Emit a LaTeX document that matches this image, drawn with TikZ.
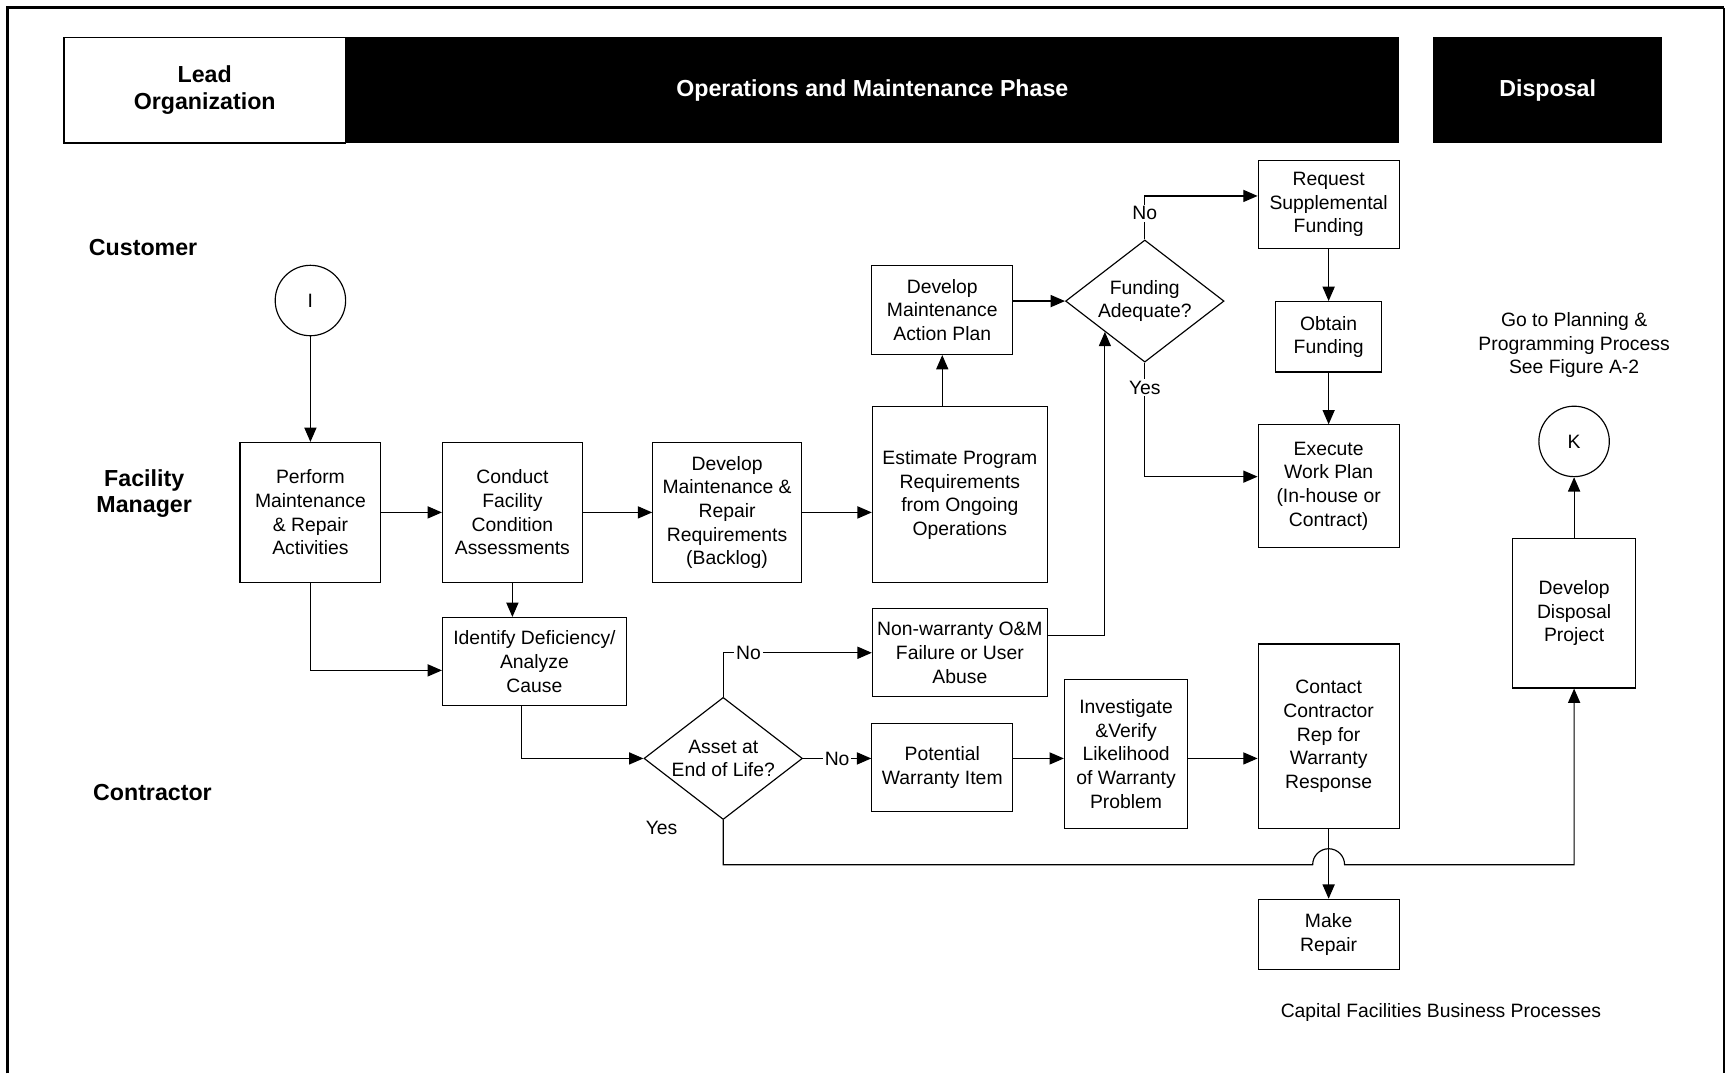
\documentclass[tikz,border=0pt]{standalone}
\usepackage{fontspec}
\setmainfont{Liberation Sans}
\usetikzlibrary{shapes.geometric,arrows.meta,calc}

\begin{document}
\begin{tikzpicture}[x=0.02cm,y=-0.02cm,
  phase/.style={minimum height=1.92cm,inner sep=0pt,align=center,font=\bfseries\fontsize{12}{14}\selectfont},
  lane/.style={align=center,font=\bfseries\fontsize{12}{13.6}\selectfont},
  box/.style 2 args={draw,line width=0.6pt,align=center,inner sep=0pt,
    minimum width=#1*0.02cm,minimum height=#2*0.02cm,font=\fontsize{10}{12.2}\selectfont},
  decide/.style={draw,diamond,line width=0.6pt,align=center,inner sep=0pt,aspect=1.3,
    minimum width=2.88cm,minimum height=2.22cm,font=\fontsize{10}{12.2}\selectfont},
  conn/.style={draw,circle,line width=0.6pt,minimum size=1.28cm,inner sep=0pt,font=\fontsize{10}{12}\selectfont},
  arr/.style={line width=0.6pt,-{Triangle[length=0.26cm,width=0.22cm]}},
  lbl/.style={fill=white,inner sep=1pt,font=\fontsize{10}{12}\selectfont},
  txt/.style={align=center,font=\fontsize{10}{12.2}\selectfont}]

\useasboundingbox (0,0) rectangle (1568,975);

% frame
\draw[line width=1.8pt] (7,975) -- (7,7) -- (1566,7);
\draw[line width=0.8pt] (1566,7) -- (1566,975);

% phases
\node[phase,draw,line width=0.8pt,minimum width=5.12cm] (lead) at (186,82) {Lead\\Organization};
\node[phase,fill=black,text=white,minimum width=19.14cm] (ops) at (792.5,82) {Operations and Maintenance Phase};
\node[phase,fill=black,text=white,minimum width=4.16cm] (disp) at (1406,82) {Disposal};

% lanes
\node[lane] (cust) at (130,225) {Customer};
\node[lane] (fm) at (131,448.5) {Facility\\Manager};
\node[lane] (contr) at (138.5,720) {Contractor};

% steps
\node[conn] (initI) at (282,273) {I};
\node[box={128}{127}] (perform) at (282,465.5) {Perform\\Maintenance\\\& Repair\\Activities};
\node[box={127}{127}] (conduct) at (465.5,465.5) {Conduct\\Facility\\Condition\\Assessments};
\node[box={135}{127}] (backlog) at (660.5,465.5) {Develop\\Maintenance \&\\Repair\\Requirements\\(Backlog)};
\node[box={159}{160}] (estimate) at (872,449.5) {Estimate Program\\Requirements\\from Ongoing\\Operations};
\node[box={128}{81}] (plan) at (856,281.5) {Develop\\Maintenance\\Action Plan};
\node[decide] (fund) at (1040,273.5) {Funding\\Adequate?};
\node[box={128}{80}] (req) at (1207,186) {Request\\Supplemental\\Funding};
\node[box={96}{64}] (obtain) at (1207,306) {Obtain\\Funding};
\node[box={128}{111}] (exec) at (1207,441.5) {Execute\\Work Plan\\(In-house or\\Contract)};
\node[box={167}{80}] (ident) at (485.5,601) {Identify Deficiency/\\Analyze\\Cause};
\node[box={159}{80}] (nonwar) at (872,593) {Non-warranty O\&M\\Failure or User\\Abuse};
\node[decide] (asset) at (657,689) {Asset at\\End of Life?};
\node[box={128}{80}] (pot) at (856,697) {Potential\\Warranty Item};
\node[box={112}{136}] (inv) at (1023,685) {Investigate\\\&Verify\\Likelihood\\of Warranty\\Problem};
\node[box={128}{168}] (contact) at (1207,669) {Contact\\Contractor\\Rep for\\Warranty\\Response};
\node[box={128}{64}] (repair) at (1207,849) {Make\\Repair};
\node[box={112}{136}] (dispose) at (1430,557) {Develop\\Disposal\\Project};
\node[conn] (K) at (1430,401) {K};

% notes
\node[txt] (goto) at (1430,313.5) {Go to Planning \&\\Programming Process\\See Figure A-2};
\node[txt] (title) at (1309,920) {Capital Facilities Business Processes};
\node[txt] (yesend) at (601,752) {Yes};

% flow
\draw[arr] (initI) -- (perform);
\draw[arr] (perform) -- (conduct);
\draw[arr] (perform.south) |- ([yshift=-0.16cm]ident.west);
\draw[arr] (conduct.south) -- (conduct.south |- ident.north);
\draw[arr] (conduct) -- (backlog);
\draw[arr] (backlog.east) -- (backlog.east -| estimate.west);
\draw[arr] (plan.south |- estimate.north) -- (plan.south);
\draw[arr] (plan.east |- fund.west) -- (fund.west);
\draw[arr] (fund.north) |- node[lbl,pos=0.3] {No} ([yshift=0.16cm]req.west);
\draw[arr] (fund.south) |- node[lbl,pos=0.11] {Yes} ([yshift=0.17cm]exec.west);
\draw[arr] (req) -- (obtain);
\draw[arr] (obtain) -- (exec);
\draw[arr] ([xshift=-0.24cm]ident.south) |- (asset.west);
\draw[arr] (asset.north) |- node[lbl,pos=0.585] {No} (nonwar.west);
\draw[arr] (asset.east) -- node[lbl] {No} (asset.east -| pot.west);
\draw[arr] ([yshift=0.32cm]nonwar.east) -| (fund.south west);
\draw[arr] (pot.east |- asset.east) -- (asset.east -| inv.west);
\draw[arr] (inv.east |- asset.east) -- (asset.east -| contact.west);
\draw[arr] (contact) -- (repair);

% end of life, hop over the repair line
\coordinate (hop) at ($(contact.south)+(0,32)$);
\draw[arr] (asset.south) |- ($(hop)+(-14.5,0)$) arc[start angle=180,end angle=0,radius=0.29cm] -| (dispose.south);
\draw[arr] (dispose) -- (K);
\end{tikzpicture}
\end{document}
